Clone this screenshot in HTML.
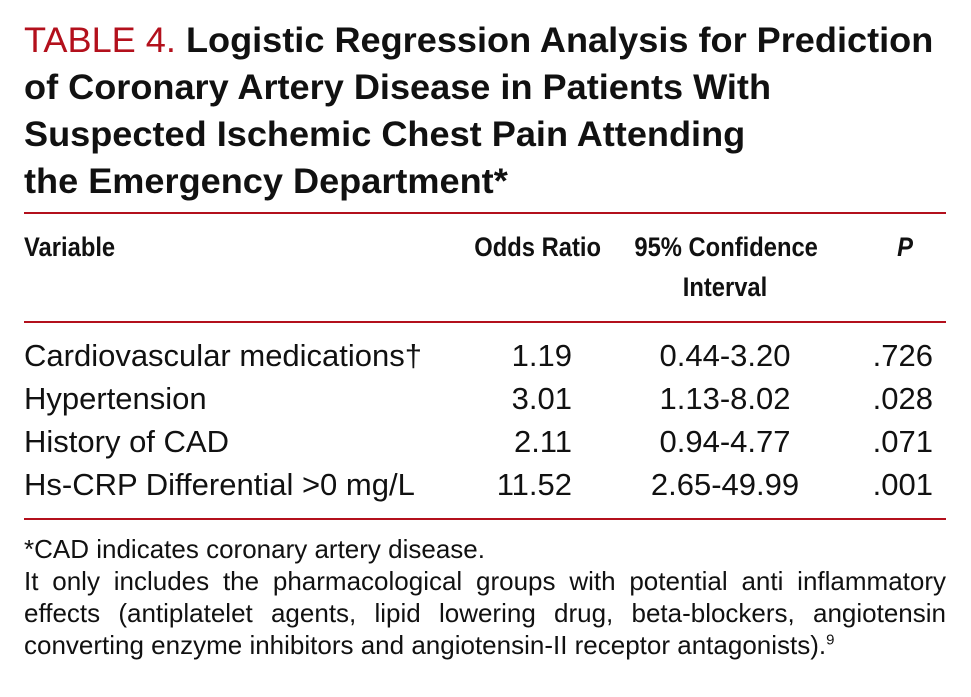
<!DOCTYPE html>
<html><head><meta charset="utf-8"><style>
html,body{margin:0;padding:0;background:#fff;}
body{width:971px;height:697px;position:relative;overflow:hidden;font-family:"Liberation Sans Narrow","Liberation Sans",sans-serif;color:#111;}
.a{position:absolute;white-space:nowrap;}
.t{font-size:35px;font-weight:bold;left:24px;line-height:47px;transform:scaleX(1.032);transform-origin:left;}
.rule{position:absolute;left:24px;width:922px;height:2px;background:#b3101c;}
.h{font-size:27px;font-weight:bold;transform:scaleX(0.88);}
.r{font-size:31px;}
.f{font-size:26px;left:24px;width:922px;text-align:justify;text-align-last:justify;}
</style></head><body>
<div class="a t" style="top:17px"><span style="color:#b3101c;font-weight:normal">TABLE 4.</span> Logistic Regression Analysis for Prediction</div>
<div class="a t" style="top:64px">of Coronary Artery Disease in Patients With</div>
<div class="a t" style="top:111px">Suspected Ischemic Chest Pain Attending</div>
<div class="a t" style="top:158px">the Emergency Department*</div>
<div class="rule" style="top:212px"></div>
<div class="a h" style="left:24px;top:232px;transform-origin:left">Variable</div>
<div class="a h" style="right:370px;top:232px;transform-origin:right">Odds Ratio</div>
<div class="a h" style="left:622px;width:206px;text-align:center;top:232px">95% Confidence</div>
<div class="a h" style="left:622px;width:206px;text-align:center;top:272px">Interval</div>
<div class="a h" style="left:896px;top:232px;font-style:italic">P</div>
<div class="rule" style="top:321px"></div>
<div>
<div class="a r" style="left:24px;top:338px">Cardiovascular medications†</div>
<div class="a r" style="right:399px;top:338px">1.19</div>
<div class="a r" style="left:630px;width:190px;text-align:center;top:338px">0.44-3.20</div>
<div class="a r" style="right:38px;top:338px">.726</div></div>
<div>
<div class="a r" style="left:24px;top:381px">Hypertension</div>
<div class="a r" style="right:399px;top:381px">3.01</div>
<div class="a r" style="left:630px;width:190px;text-align:center;top:381px">1.13-8.02</div>
<div class="a r" style="right:38px;top:381px">.028</div></div>
<div>
<div class="a r" style="left:24px;top:424px">History of CAD</div>
<div class="a r" style="right:399px;top:424px">2.11</div>
<div class="a r" style="left:630px;width:190px;text-align:center;top:424px">0.94-4.77</div>
<div class="a r" style="right:38px;top:424px">.071</div></div>
<div>
<div class="a r" style="left:24px;top:467px">Hs-CRP Differential &gt;0 mg/L</div>
<div class="a r" style="right:399px;top:467px">11.52</div>
<div class="a r" style="left:630px;width:190px;text-align:center;top:467px">2.65-49.99</div>
<div class="a r" style="right:38px;top:467px">.001</div></div>
<div class="rule" style="top:518px"></div>
<div class="a" style="left:24px;top:534px;font-size:26px">*CAD indicates coronary artery disease.</div>
<div class="a f" style="top:566px">It only includes the pharmacological groups with potential anti inflammatory</div>
<div class="a f" style="top:598px">effects (antiplatelet agents, lipid lowering drug, beta-blockers, angiotensin</div>
<div class="a" style="left:24px;top:630px;font-size:26px">converting enzyme inhibitors and angiotensin-II receptor antagonists).<sup style="font-size:15px">9</sup></div>
</body></html>
